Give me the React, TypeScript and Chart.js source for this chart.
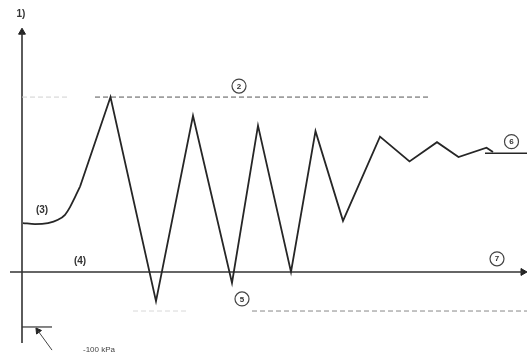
import React, { useEffect, useRef } from "react";
import { Chart, registerables } from "chart.js";

Chart.register(...registerables);

// time (arbitrary units) and pressure (kPa, relative to line 7)
const startCurveT = [0.2, 2.6, 5.2, 7.2, 8.6, 9.6, 10.6, 11.6];
const startCurveP = [89, 87, 89, 95, 104, 118, 136, 155];
const pulseT = [11.6, 17.7, 26.8, 34.2, 42, 47.2, 53.8, 58.7, 64.2, 71.6, 77.5, 83, 87.3, 92.9, 94.2];
const pulseP = [155, 318, -53, 284, -20, 266, 0, 256, 93, 246, 201, 236, 209, 226, 218];
const steadyT = [92.6, 101];
const steadyP = [216, 216];
const maxLevel = 318;
const maxLevelFaintT = [0, 9.6];
const maxLevelT = [14.6, 81.6];
const minLevel = -71;
const minLevelFaintT = [22.2, 33];
const minLevelT = [46, 101];
const baseLineT = [-2.4, 100.2];
const baseLevel = 0;
const vacuumLevel = -100;
const vacuumTickT = [0, 6];
const yAxisP = [-129, 436];
const vacuumArrowT = [6, 3.2];
const vacuumArrowP = [-142, -107];

const circledLabels = ["2", "5", "6", "7"];
const circledT = [43.4, 44, 97.9, 95];
const circledP = [338, -49, 237, 24];
const plainLabels = ["1)", "(3)", "(4)", "-100 kPa"];
const plainT = [-0.2, 4, 11.6, 15.4];
const plainP = [469, 113, 20, -141];

const pts = (xs: number[], ys: number[]) => xs.map((x, i) => ({ x, y: ys[i] }));

const labelPlugin = {
  id: "labels",
  afterDatasetsDraw(chart: any) {
    const { ctx, scales } = chart;
    const sx = scales.x;
    const sy = scales.y;
    ctx.save();
    ctx.textAlign = "center";
    ctx.textBaseline = "middle";
    ctx.fillStyle = "#333";
    ctx.strokeStyle = "#444";
    ctx.lineWidth = 1.2;
    circledLabels.forEach((t, i) => {
      const px = sx.getPixelForValue(circledT[i]);
      const py = sy.getPixelForValue(circledP[i]);
      ctx.beginPath();
      ctx.arc(px, py, 7, 0, Math.PI * 2);
      ctx.stroke();
      ctx.font = "bold 8px 'Liberation Sans', Arial, sans-serif";
      ctx.fillText(t, px, py + 0.5);
    });
    plainLabels.forEach((t, i) => {
      const px = sx.getPixelForValue(plainT[i]);
      const py = sy.getPixelForValue(plainP[i]);
      ctx.font = i === 3 ? "8px 'Liberation Sans', Arial, sans-serif" : "bold 10px 'Liberation Sans', Arial, sans-serif";
      ctx.fillStyle = i === 3 ? "#444" : "#333";
      ctx.fillText(t, px, py);
    });
    ctx.restore();
  },
};

export default function App() {
  const ref = useRef<HTMLCanvasElement>(null);
  useEffect(() => {
    if (!ref.current) return;
    const dark = "#262626";
    const line = (data: any[], extra: any = {}) => ({
      data,
      borderColor: dark,
      borderWidth: 1.8,
      pointRadius: 0,
      tension: 0,
      fill: false,
      clip: false as any,
      ...extra,
    });
    const chart = new Chart(ref.current, {
      type: "line",
      data: {
        datasets: [
          line(pts(startCurveT, startCurveP), { tension: 0.4, cubicInterpolationMode: "monotone" }),
          line(pts(pulseT, pulseP)),
          line(pts(steadyT, steadyP), { borderWidth: 1.4 }),
          line(pts(maxLevelFaintT, [maxLevel, maxLevel]), { borderColor: "#d0d0d0", borderWidth: 1, borderDash: [5, 3] }),
          line(pts(maxLevelT, [maxLevel, maxLevel]), { borderColor: "#555", borderWidth: 1, borderDash: [5, 3] }),
          line(pts(minLevelFaintT, [minLevel, minLevel]), { borderColor: "#d8d8d8", borderWidth: 1, borderDash: [5, 3] }),
          line(pts(minLevelT, [minLevel, minLevel]), { borderColor: "#888", borderWidth: 1, borderDash: [5, 3] }),
          line(pts(baseLineT, [baseLevel, baseLevel]), { borderWidth: 1.6, borderColor: "#333" }),
          line(pts([0, 0], yAxisP), { borderWidth: 1.6, borderColor: "#333" }),
          line(pts(vacuumTickT, [vacuumLevel, vacuumLevel]), { borderWidth: 1.2, borderColor: "#333" }),
          line(pts(vacuumArrowT, vacuumArrowP), { borderWidth: 1, borderColor: "#444" }),
          {
            data: [
              { x: baseLineT[1], y: baseLevel },
              { x: 0, y: yAxisP[1] },
              { x: vacuumArrowT[1], y: vacuumArrowP[1] },
            ],
            showLine: false,
            pointStyle: "triangle",
            pointRotation: [90, 0, -36],
            pointRadius: [4, 4, 3.5],
            pointBackgroundColor: "#222",
            pointBorderColor: "#222",
            pointBorderWidth: 1,
            clip: false as any,
          } as any,
        ],
      },
      options: {
        animation: false,
        responsive: false,
        events: [],
        layout: { padding: 0, autoPadding: false },
        plugins: { legend: { display: false }, tooltip: { enabled: false } },
        scales: {
          x: { type: "linear", min: -4.4, max: 101.4, display: false },
          y: { type: "linear", min: -156.4, max: 494.5, display: false },
        },
      },
      plugins: [labelPlugin],
    });
    return () => chart.destroy();
  }, []);
  return (
    <div style={{ position: "fixed", left: 0, top: 0, width: 529, height: 358, background: "#fff" }}>
      <canvas ref={ref} width={529} height={358} />
    </div>
  );
}
